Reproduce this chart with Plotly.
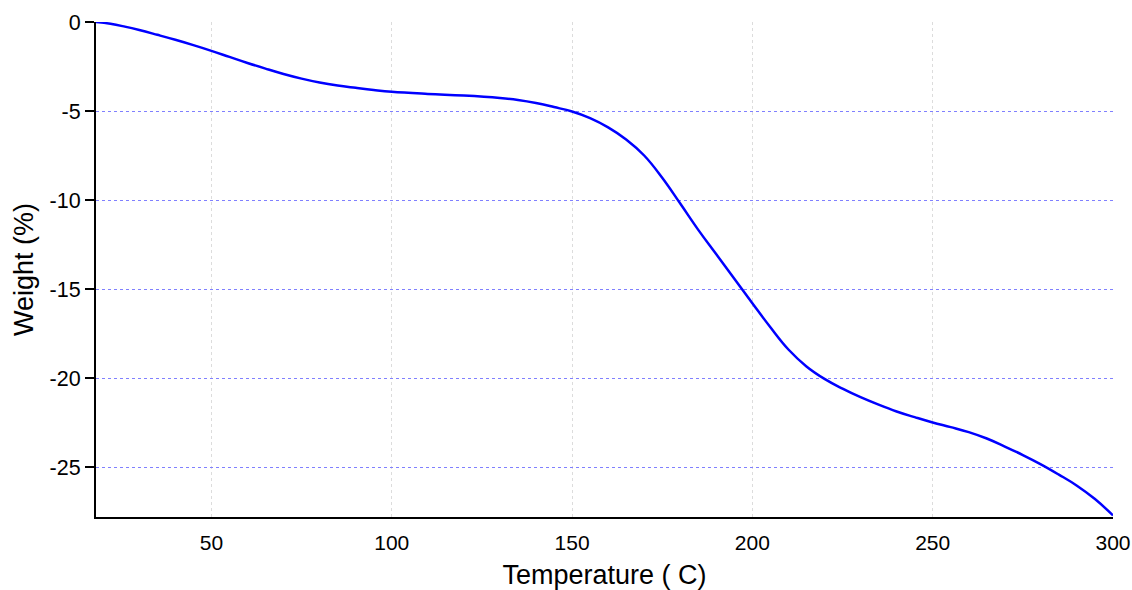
import plotly.graph_objects as go

temperature = [18, 22, 26, 30, 35, 40, 45, 50, 55, 60, 65, 70, 75, 80, 85, 90, 95, 100, 110, 120, 130, 135,
               140, 145, 150, 155, 160, 165, 170, 175, 180, 185, 190, 195, 200, 205, 210, 215, 220, 225,
               230, 235, 240, 245, 250, 255, 260, 265, 270, 275, 280, 285, 290, 295, 300]
weight = [0.0, -0.1, -0.26, -0.45, -0.72, -1.0, -1.3, -1.62, -1.96, -2.3, -2.62, -2.92, -3.18, -3.4, -3.57,
          -3.7, -3.82, -3.92, -4.04, -4.13, -4.27, -4.38, -4.55, -4.78, -5.03, -5.4, -5.92, -6.6, -7.5,
          -8.75, -10.2, -11.68, -13.05, -14.42, -15.8, -17.15, -18.4, -19.35, -20.05, -20.6, -21.08, -21.5,
          -21.88, -22.2, -22.5, -22.76, -23.04, -23.4, -23.85, -24.33, -24.85, -25.43, -26.05, -26.8, -27.72]

x_ticks = [50, 100, 150, 200, 250, 300]
y_ticks = [0, -5, -10, -15, -20, -25]

fig = go.Figure()
fig.add_trace(go.Scatter(
    x=temperature, y=weight, mode="lines",
    line=dict(color="#0000ff", width=2.5, shape="spline", smoothing=1.2),
    cliponaxis=False, showlegend=False,
))

font_family = "Liberation Sans, Arial, sans-serif"
fig.update_layout(
    width=1132, height=590,
    margin=dict(l=96, r=19, t=22, b=73),
    paper_bgcolor="white", plot_bgcolor="white",
    font=dict(family=font_family, color="black"),
    xaxis=dict(
        range=[18, 300], tickvals=x_ticks, ticktext=[str(v) for v in x_ticks],
        tickfont=dict(size=21), showline=True, linecolor="black", linewidth=2,
        ticks="outside", ticklen=6, tickcolor="rgba(0,0,0,0)",
        showgrid=True, gridcolor="#dcdcdc", griddash="dot", gridwidth=1,
        zeroline=False, automargin=False,
        title=dict(text="Temperature ( C)", font=dict(size=27), standoff=13),
    ),
    yaxis=dict(
        range=[-27.809, 0], tickvals=y_ticks, ticktext=[str(v) for v in y_ticks],
        tickfont=dict(size=21.5), showline=True, linecolor="black", linewidth=2,
        ticks="outside", ticklen=9, tickcolor="black", tickwidth=2,
        showgrid=True, gridcolor="#8080ff", griddash="dot", gridwidth=1,
        zeroline=False, automargin=False,
        title=dict(text="Weight (%)", font=dict(size=27), standoff=8),
    ),
)

fig.write_html("out.html")
